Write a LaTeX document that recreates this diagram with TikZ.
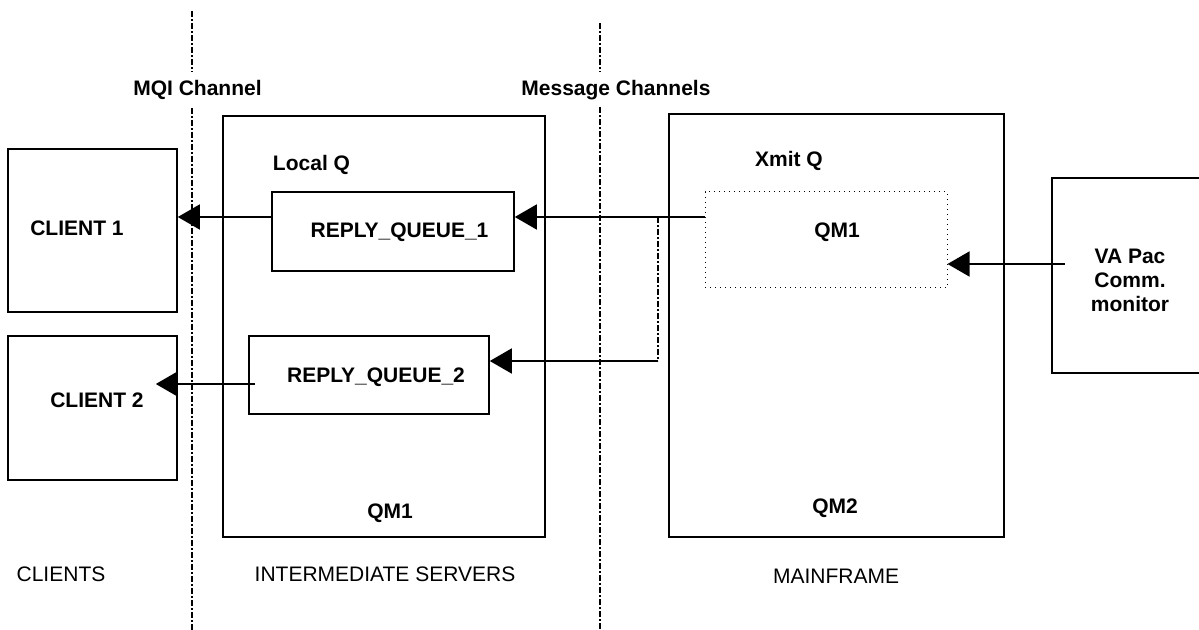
\documentclass[tikz,border=0pt]{standalone}
\usepackage{fontspec}
\setmainfont{Liberation Sans}
\usetikzlibrary{arrows.meta,calc}
\begin{document}
\begin{tikzpicture}[x=0.5pt,y=-0.5pt,
  box/.style={draw,line width=0.8pt,inner sep=0pt,fill=none},
  dotbox/.style={draw,line width=0.5pt,dotted,inner sep=0pt},
  btext/.style={font=\fontsize{10.5}{12}\selectfont\bfseries,inner sep=0pt,align=center},
  rtext/.style={font=\fontsize{10.5}{12}\selectfont,inner sep=0pt},
  arr/.style={line width=0.8pt,-{Triangle[length=11pt,width=12.5pt]}},
  dashdot/.style={line width=0.6pt,dash pattern=on 3pt off 1.2pt on 0.6pt off 1.2pt}
]
\useasboundingbox (0,0) rectangle (1199,630);
\clip (0,0) rectangle (1199,630);
% separator lines
\coordinate (l1a) at (192,11);  \coordinate (l1b) at (192,72);
\coordinate (l1c) at (192,108); \coordinate (l1d) at (192,630);
\coordinate (l2a) at (600,23);  \coordinate (l2b) at (600,72);
\coordinate (l2c) at (600,107); \coordinate (l2d) at (600,630);
\draw[dashdot] (l1a) -- (l1b) (l1c) -- (l1d);
\draw[dashdot] (l2a) -- (l2b) (l2c) -- (l2d);
\node[btext] (mqi) at (197.5,90) {MQI Channel};
\node[btext] (msg) at (616,90) {Message Channels};
% clients
\node[box,minimum width=84.5pt,minimum height=81.5pt] (c1) at (92.5,230.5) {};
\node[btext] (c1t) at (77,228) {CLIENT 1};
\node[box,minimum width=84.5pt,minimum height=72pt] (c2) at (92.5,408) {};
\node[btext] (c2t) at (97,400) {CLIENT 2};
% intermediate server
\node[box,minimum width=161pt,minimum height=210.5pt] (srv) at (384,326.5) {};
\node[btext] (lq) at (311.5,165) {Local Q};
\node[box,minimum width=121pt,minimum height=39.5pt] (rq1) at (393,231.5) {};
\node[btext] (rq1t) at (399.5,232) {REPLY\_QUEUE\_1};
\node[box,minimum width=120pt,minimum height=39pt] (rq2) at (369,375) {};
\node[btext] (rq2t) at (376,377) {REPLY\_QUEUE\_2};
\node[btext] (srvt) at (390,513) {QM1};
% mainframe
\node[box,minimum width=167.5pt,minimum height=211.5pt] (mf) at (836.5,325.5) {};
\node[btext] (xq) at (789,161) {Xmit Q};
\node[dotbox,minimum width=121pt,minimum height=48pt] (xqb) at (826,240) {};
\node[btext] (xqt) at (837,232) {QM1};
\node[btext] (mft) at (835,508) {QM2};
% VA Pac
\node[box,minimum width=82pt,minimum height=97.5pt] (va) at (1134,275.5) {};
\node[btext] (vat) at (1130,280) {VA Pac\\Comm.\\monitor};
% bottom captions
\node[rtext] (cl) at (61,574) {CLIENTS};
\node[rtext] (is) at (385,574) {INTERMEDIATE SERVERS};
\node[rtext] (mfc) at (836,576) {MAINFRAME};
% connectors
\coordinate (a1) at ($(rq1.west)+(0,-14.5)$);
\draw[arr] (a1) -- (a1 -| c1.east);
\coordinate (a2) at ($(xqb.west)+(0,-23)$);
\draw[arr] (a2) -- (a2 -| rq1.east);
\coordinate (j1) at (658,217);
\coordinate (j2) at (658,361);
\draw[dashdot] (j1) -- (j2);
\draw[arr] (j2) -- (j2 -| rq2.east);
\coordinate (b1) at ($(rq2.west)+(7,9)$);
\draw[arr] (b1) -- ($(b1 -| c2.east)+(-22,0)$);
\coordinate (v1) at ($(va.west)+(14,-11.5)$);
\draw[arr] (v1) -- (v1 -| xqb.east);
\end{tikzpicture}
\end{document}
